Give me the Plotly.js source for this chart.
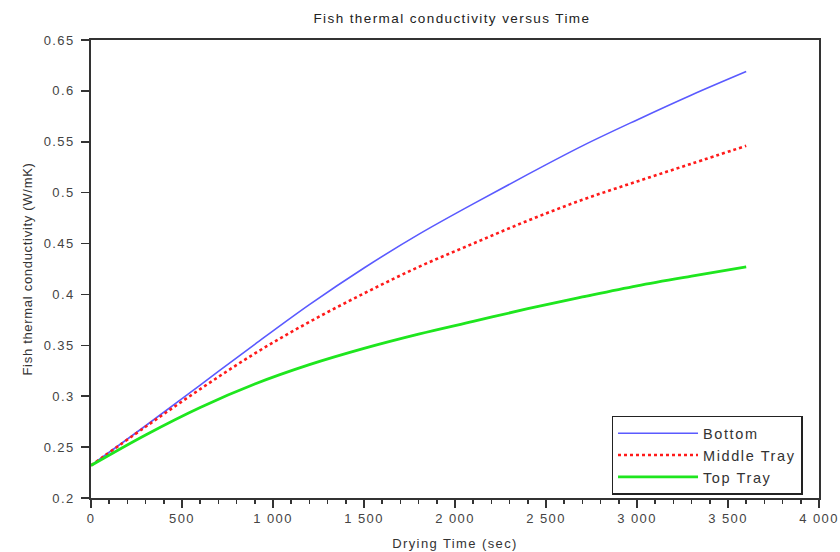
<!DOCTYPE html>
<html>
<head>
<meta charset="utf-8">
<script src="https://cdn.plot.ly/plotly-3.0.1.min.js"></script>
<style>
html,body{margin:0;padding:0;background:#fff;}
#chart{width:840px;height:552px;}
svg text{letter-spacing:1.4px;}
svg text.ytitle{letter-spacing:0.7px;}
svg text.legendtext{letter-spacing:1.6px;}
</style>
</head>
<body>
<div id="chart"></div>
<script>
// Drying time (sec)
const time = [0, 300, 600, 900, 1200, 1500, 1800, 2100, 2400, 2700, 3000, 3300, 3600];
// Fish thermal conductivity (W/mK)
const bottom  = [0.232, 0.271, 0.311, 0.351, 0.390, 0.426, 0.459, 0.489, 0.518, 0.546, 0.5715, 0.596, 0.619];
const middle  = [0.232, 0.270, 0.307, 0.342, 0.373, 0.401, 0.427, 0.450, 0.4725, 0.493, 0.511, 0.5285, 0.546];
const topTray = [0.232, 0.262, 0.289, 0.312, 0.331, 0.347, 0.361, 0.3735, 0.386, 0.3975, 0.4085, 0.418, 0.427];
const seriesNames = ['Bottom', 'Middle Tray', 'Top Tray'];

const traces = [
  {x: time, y: bottom, name: seriesNames[0], mode: 'lines',
   line: {color: '#5a5aff', width: 1.6, shape: 'spline', smoothing: 1}},
  {x: time, y: middle, name: seriesNames[1], mode: 'lines',
   line: {color: '#ff1a1a', width: 2.6, dash: 'dot', shape: 'spline', smoothing: 1}},
  {x: time, y: topTray, name: seriesNames[2], mode: 'lines',
   line: {color: '#1ee61e', width: 2.8, shape: 'spline', smoothing: 1}}
];

const FAM = 'Liberation Sans, Arial, sans-serif';
const axisFont = {family: FAM, size: 13, color: '#444'};

const layout = {
  width: 840, height: 552,
  margin: {l: 91, r: 21, t: 40, b: 54},
  paper_bgcolor: '#fff', plot_bgcolor: '#fff',
  separators: '. ',
  font: {family: FAM, size: 12, color: '#333'},
  title: {text: 'Fish thermal conductivity versus Time', x: 0.538, xanchor: 'center', y: 0.967, yanchor: 'middle',
          font: {family: FAM, size: 13.5, color: '#222'}},
  showlegend: true,
  legend: {x: 0.715, y: 0.007, xanchor: 'left', yanchor: 'bottom',
           bgcolor: '#fff', bordercolor: '#222', borderwidth: 1.5,
           itemwidth: 80, tracegroupgap: 0,
           font: {family: FAM, size: 14.5, color: '#333'}},
  xaxis: {
    range: [0, 4000], dtick: 500, tick0: 0, separatethousands: true,
    showgrid: false, zeroline: false,
    showline: true, linecolor: '#333', linewidth: 1.8, mirror: true,
    ticks: 'outside', ticklen: 8, tickwidth: 1.5, tickcolor: '#333',
    minor: {dtick: 100, ticks: 'outside', ticklen: 4, tickwidth: 1.5, tickcolor: '#333', showgrid: false},
    tickfont: axisFont,
    title: {text: 'Drying Time (sec)', standoff: 13, font: {family: FAM, size: 13, color: '#333'}}
  },
  yaxis: {
    range: [0.2, 0.65], dtick: 0.05, tick0: 0.2,
    showgrid: false, zeroline: false,
    showline: true, linecolor: '#333', linewidth: 1.8, mirror: true,
    ticks: 'outside', ticklen: 8, tickwidth: 1.5, tickcolor: '#333',
    ticklabelstandoff: 4,
    tickfont: axisFont,
    title: {text: 'Fish thermal conductivity (W/mK)', standoff: 8, font: {family: FAM, size: 13, color: '#333'}}
  }
};

Plotly.newPlot('chart', traces, layout, {displayModeBar: false, staticPlot: true});
</script>
</body>
</html>
